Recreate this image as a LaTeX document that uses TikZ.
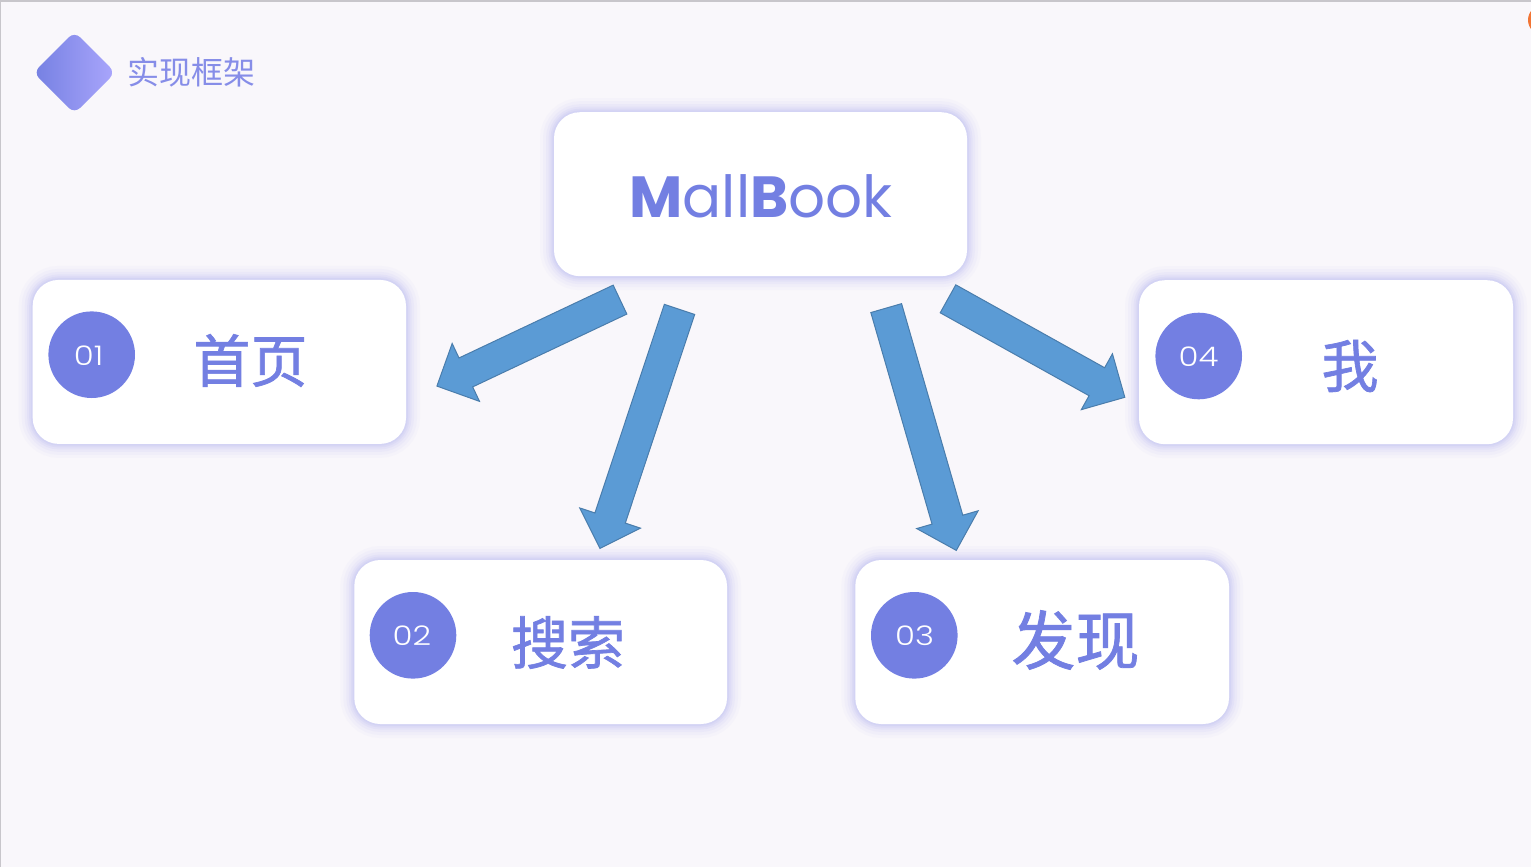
\documentclass[tikz,border=0pt]{standalone}
\usepackage{fontspec}
\usetikzlibrary{calc}
\newfontfamily\cjkfont{Noto Sans CJK SC}
\newfontfamily\cjkheavy[FakeBold=1.2]{Noto Sans CJK SC}
\newfontfamily\techfont{Poppins}
\newfontfamily\digitfont{Poppins Light}
\definecolor{pagebg}{HTML}{F9F7FB}
\definecolor{ink}{HTML}{737FE2}
\definecolor{titleink}{HTML}{868DE8}
\definecolor{halo}{HTML}{B4B6F0}
\definecolor{arrowfill}{HTML}{5B9BD5}
\definecolor{arrowline}{HTML}{4A7DAC}
\definecolor{dotorange}{HTML}{F27535}
\definecolor{gradL}{HTML}{7580E2}
\definecolor{gradR}{HTML}{AAA6FC}
\definecolor{edgegray}{HTML}{C8C6CB}
\tikzset{
  card/.style={rectangle, rounded corners=26pt, fill=white, inner sep=0pt,
    minimum width=#1, minimum height=164pt,
    preaction={draw=halo, draw opacity=.05, line width=28pt},
    preaction={draw=halo, draw opacity=.07, line width=22pt},
    preaction={draw=halo, draw opacity=.09, line width=16pt},
    preaction={draw=halo, draw opacity=.12, line width=11pt},
    preaction={draw=halo, draw opacity=.15, line width=7pt},
    preaction={draw=halo, draw opacity=.18, line width=3.5pt}},
  badge/.style={circle, fill=ink, minimum size=86.6pt, inner sep=0pt},
  digits/.style={text=white, inner sep=0pt, font=\digitfont\fontsize{27}{27}\selectfont},
  cardlabel/.style={text=ink, inner sep=0pt, font=\cjkheavy\fontsize{#1}{#1}\selectfont},
  blockarrow/.style={draw=arrowline, fill=arrowfill, line width=1pt, line join=miter}
}
\newcommand{\blockarrow}[2]{%
  \coordinate (nk) at ($(#2)!32pt!(#1)$);
  \draw[blockarrow] ($(#1)!16pt!90:(#2)$) -- ($(nk)!16pt!90:(#2)$) -- ($(nk)!32pt!90:(#2)$)
    -- (#2) -- ($(nk)!32pt!-90:(#2)$) -- ($(nk)!16pt!-90:(#2)$) -- ($(#1)!16pt!-90:(#2)$) -- cycle;
}
\begin{document}
\begin{tikzpicture}[x=1pt,y=-1pt]
  \clip (0,0) rectangle (1531,867);
  \fill[pagebg] (0,0) rectangle (1531,867);
  \fill[edgegray] (0,0) rectangle (1531,1.6);
  \fill[edgegray] (0,0) rectangle (1,867);
  \fill[dotorange] (1543,20) circle (15);

  % title
  \shade[left color=gradL, right color=gradR, rounded corners=8pt]
    (74.4,31.6) -- (115.4,72.6) -- (74.4,113.6) -- (33.4,72.6) -- cycle;
  \node[text=titleink, inner sep=0pt, font=\cjkfont\fontsize{32}{32}\selectfont] (title) at (191,72.5) {实现框架};

  % cards
  \node[card=413pt] (main) at (760.5,194.2) {};
  \node[card=373.3pt] (home) at (219.35,361.9) {};
  \node[card=372.7pt] (search) at (540.65,642) {};
  \node[card=373.7pt] (discover) at (1042.15,642) {};
  \node[card=374pt] (me) at (1326,362.2) {};

  \node[text=ink, inner sep=0pt, font=\techfont\fontsize{58}{58}\selectfont] (brand) at (761,196.5)
    {{\bfseries M}all{\bfseries B}ook};

  \node[badge] (b1) at (91.7,354.7) {};
  \node[badge] (b2) at (413,635.3) {};
  \node[badge] (b3) at (914.3,635.3) {};
  \node[badge] (b4) at (1198.7,356) {};
  \node[digits] (d1) at (88.5,356) {\scalebox{1.2}[1]{01}};
  \node[digits] (d2) at (411.8,636) {\scalebox{1.2}[1]{02}};
  \node[digits] (d3) at (914.5,636) {\scalebox{1.2}[1]{03}};
  \node[digits] (d4) at (1198.5,357) {\scalebox{1.2}[1]{04}};

  \node[cardlabel=57] (l1) at (250.5,360.5) {首页};
  \node[cardlabel=57] (l2) at (568,642.5) {搜索};
  \node[cardlabel=64] (l3) at (1075.5,640) {发现};
  \node[cardlabel=57] (l4) at (1350,366) {我};

  % connectors
  \coordinate (a1s) at ($(main.south west)+(66.2,23.2)$);
  \coordinate (a1e) at ($(home.east)+(30.7,24.2)$);
  \coordinate (a2s) at ($(main.south west)+(125.7,33)$);
  \coordinate (a2e) at ($(search.north)+(59.35,-11.4)$);
  \coordinate (a3s) at ($(main.south east)+(-81,31.7)$);
  \coordinate (a3e) at ($(discover.north)+(-85.85,-9.4)$);
  \coordinate (a4s) at ($(main.south east)+(-19.2,22.4)$);
  \coordinate (a4e) at ($(me.west)+(-14,35.1)$);
  \blockarrow{a1s}{a1e}
  \blockarrow{a2s}{a2e}
  \blockarrow{a3s}{a3e}
  \blockarrow{a4s}{a4e}
\end{tikzpicture}
\end{document}
